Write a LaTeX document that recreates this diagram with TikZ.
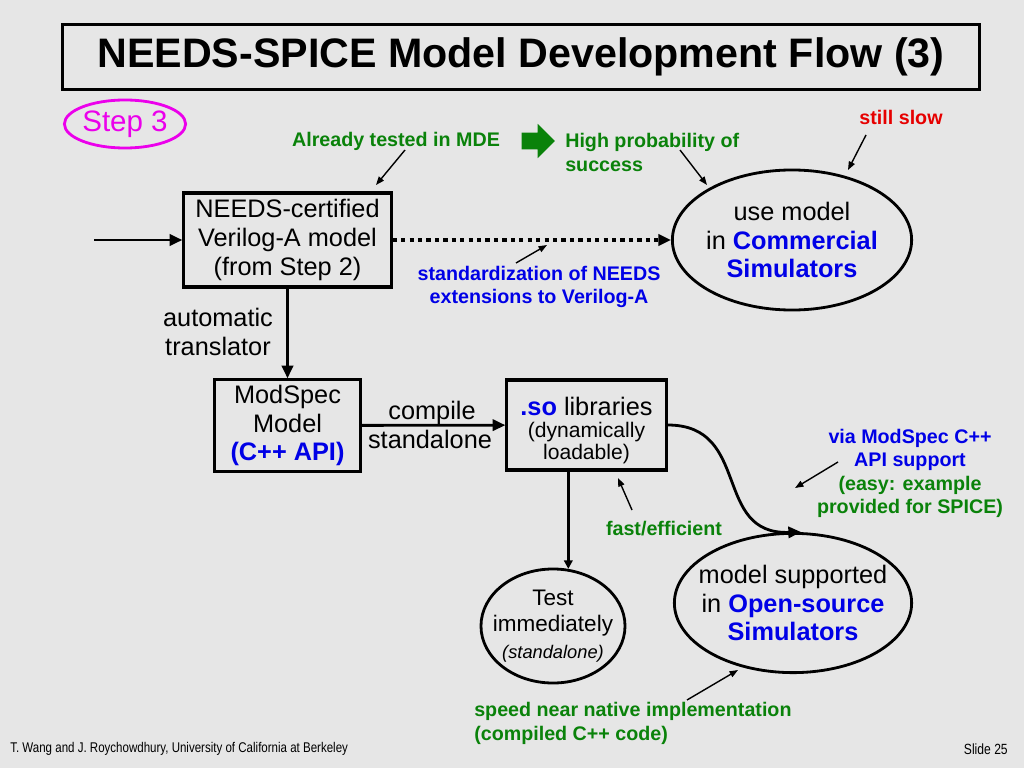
\documentclass[tikz,border=0pt]{standalone}
\usepackage{fontspec}
\setmainfont{Liberation Sans}
\newfontfamily\narrowfont[FakeStretch=0.82]{Liberation Sans}
\usetikzlibrary{positioning, arrows.meta, shapes.geometric, shapes.arrows}

\definecolor{slidegray}{RGB}{230,230,230}
\definecolor{notegreen}{RGB}{10,130,10}
\definecolor{noteblue}{RGB}{0,0,230}
\definecolor{notered}{RGB}{230,0,0}
\definecolor{stepmagenta}{RGB}{235,0,235}

\tikzset{
	flowbox/.style={draw, line width=2.2pt, align=center, inner sep=0pt,
		font=\fontsize{18}{20.5}\selectfont},
	flowoval/.style={draw, ellipse, line width=2pt, align=center, inner sep=-20pt,
		font=\fontsize{18}{20.5}\selectfont},
	note/.style={align=center, inner sep=0pt, font=\bfseries\fontsize{14}{16.5}\selectfont},
	flow/.style={line width=2pt, -{Triangle[length=9pt,width=8pt]}},
	pointer/.style={line width=1pt, -{Triangle[length=6pt,width=4.5pt]}}
}

\begin{document}
\begin{tikzpicture}
	[x=0.025cm, y=-0.025cm]
	\fill[slidegray] (0,0) rectangle (1024,768);
	\useasboundingbox (0,0) rectangle (1024,768);

	\node[flowbox, minimum width=22.93cm, minimum height=1.63cm,
		font=\bfseries\fontsize{29.3}{31}\selectfont] (title) at (521,57)
		{NEEDS-SPICE Model Development Flow (3)};
	\node[draw=stepmagenta, ellipse, line width=2pt, text=stepmagenta, minimum width=3.03cm,
		minimum height=1.2cm, inner sep=-20pt, font=\fontsize{21}{23}\selectfont] (step) at (125,124) {Step 3};

	% top row
	\node[flowbox, minimum width=5.18cm, minimum height=2.35cm] (cert) at (287.5,240)
		{NEEDS-certified\\Verilog-A model\\(from Step 2)};
	\node[flowoval, minimum width=5.98cm, minimum height=3.5cm] (commercial) at (792,240)
		{use model\\in \textcolor{noteblue}{\bfseries Commercial}\\\textcolor{noteblue}{\bfseries Simulators}};
	\coordinate (input) at (94,240);
	\draw[flow] (input) -- (cert);
	\draw[line width=3pt, dash pattern=on 3pt off 3pt, -{Triangle[length=9pt,width=8pt]}]
		(cert) -- (commercial);

	\node[note, text=notegreen] (mde) at (396,141) {Already tested in MDE};
	\node[single arrow, fill=notegreen, inner sep=0.2cm, minimum height=0.83cm,
		single arrow head extend=0.22cm] (bigarrow) at (534,141) {};
	\node[note, text=notegreen, align=left, anchor=west] (highprob) at (565,152.5)
		{High probability of\\success};
	\node[note, text=notered] (slow) at (901,117) {still slow};
	\node[note, text=noteblue] (stdz) at (539,287) {standardization of NEEDS\\extensions to Verilog-A};

	% lower part
	\node[flowbox, minimum width=3.63cm, minimum height=2.28cm] (modspec) at (287.5,425.5)
		{ModSpec\\Model\\\textcolor{noteblue}{\bfseries(C++ API)}};
	\node[flowbox, minimum width=3.98cm, minimum height=2.25cm,
		font=\fontsize{18}{15.6}\selectfont] (so) at (586.5,425)
		{\rule{0pt}{21pt}\textcolor{noteblue}{\bfseries .so} libraries\\
		{\fontsize{15}{15.6}\selectfont(dynamically}\\{\fontsize{15}{15.6}\selectfont loadable)}};
	\node[flowoval, minimum width=3.6cm, minimum height=2.85cm,
		font=\fontsize{16}{19}\selectfont] (test) at (553,626)
		{Test\\immediately\\{\itshape\fontsize{13}{17}\selectfont(standalone)}};
	\node[flowoval, minimum width=5.93cm, minimum height=3.48cm] (opensrc) at (793,603)
		{model supported\\in \textcolor{noteblue}{\bfseries Open-source}\\\textcolor{noteblue}{\bfseries Simulators}};

	\node[align=center, font=\fontsize{18}{20}\selectfont] (auto) at (218,332) {automatic\\translator};
	\draw[flow] (cert) -- (modspec);
	\draw[flow] (modspec) -- (so);
	\node[anchor=base, font=\fontsize{18}{20}\selectfont] (compile) at (432,419) {compile};
	\node[anchor=base, font=\fontsize{18}{20}\selectfont] (standalone) at (430,448) {standalone};
	\draw[flow, -{Triangle[length=6pt,width=6pt]}] (so.south -| test.75) -- (test.75);
	\draw[flow] (so.east) .. controls (752,425) and (712,535) .. ([xshift=2mm]opensrc.north);

	\node[note, text=notegreen] (fast) at (664,529) {fast/efficient};
	\node[note] (via) at (910,473.5) {\textcolor{noteblue}{via ModSpec C++}\\\textcolor{noteblue}{API support}\\
		\textcolor{notegreen}{(easy: example}\\\textcolor{notegreen}{provided for SPICE)}};
	\node[note, text=notegreen, align=left, anchor=west] (speed) at (474,723.5)
		{speed near native implementation\\(compiled C++ code)};

	% pointers
	\coordinate (mdetail) at (405,150);   \coordinate (mdetip) at (376,185);
	\coordinate (probtail) at (680,150);  \coordinate (probtip) at (707,185);
	\coordinate (slowtail) at (866,135);  \coordinate (slowtip) at (848,170);
	\coordinate (stdztail) at (516,263);  \coordinate (stdztip) at (547,245);
	\coordinate (fasttail) at (632,510);  \coordinate (fasttip) at (618,478);
	\coordinate (viatail) at (838,462);   \coordinate (viatip) at (795,488);
	\coordinate (speedtail) at (687,700); \coordinate (speedtip) at (738,670);
	\foreach \a in {mde, prob, slow, stdz, fast, via, speed}
		\draw[pointer] (\a tail) -- (\a tip);

	\node[anchor=west, inner sep=0pt, font=\narrowfont\fontsize{10}{12}\selectfont] (authors) at (10,749)
		{T. Wang and J. Roychowdhury, University of California at Berkeley};
	\node[anchor=east, inner sep=0pt, font=\narrowfont\fontsize{10.5}{12}\selectfont] (slide) at (1008,749) {Slide 25};
\end{tikzpicture}
\end{document}
